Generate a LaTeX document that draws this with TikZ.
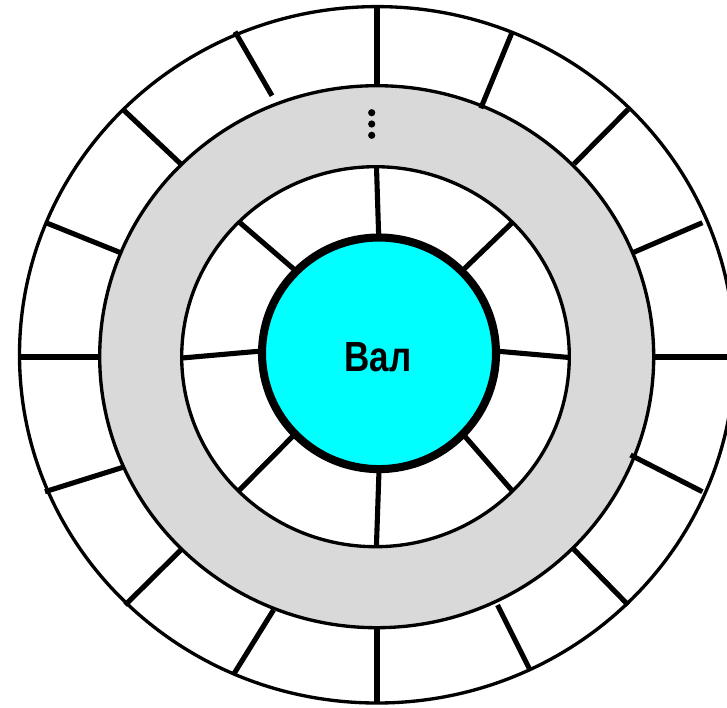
\documentclass[tikz,border=0pt]{standalone}
\usepackage{fontspec}
\setmainfont{Liberation Sans}
\definecolor{ringgray}{RGB}{217,217,217}
\definecolor{shaftcyan}{RGB}{0,255,255}
\begin{document}
\begin{tikzpicture}[x=0.02cm,y=-0.02cm,
  rim/.style={line width=1.9pt},
  ringedge/.style={line width=1.9pt},
  outerspoke/.style={line width=2.9pt},
  innerspoke/.style={line width=2.9pt},
  shaftline/.style={line width=4.6pt},
  dot/.style={fill=black}]
\useasboundingbox (0,0) rectangle (727,707);
\clip (0,0) rectangle (727,707);
\fill[white] (0,0) rectangle (727,707);
% outer circle
\draw[rim,fill=white] (377,354.8) ellipse [x radius=357.5, y radius=348.2];
% grey ring
\fill[ringgray,even odd rule] (376.7,356.7) ellipse [x radius=277, y radius=271]
   (375.5,356.7) ellipse [x radius=193.8, y radius=190];
\draw[ringedge] (376.7,356.7) ellipse [x radius=277, y radius=271];
\draw[ringedge,fill=white] (375.5,356.7) ellipse [x radius=193.8, y radius=190];
% outer spokes
\draw[outerspoke] (377,7) -- (377,86);
\draw[outerspoke] (235,31.7) -- (272,95.7);
\draw[outerspoke] (122.9,109.3) -- (180.8,164);
\draw[outerspoke] (45,222.3) -- (122,253.3);
\draw[outerspoke] (20,357) -- (100,357);
\draw[outerspoke] (45,491.7) -- (122.9,467.3);
\draw[outerspoke] (125.2,605) -- (180.8,550);
\draw[outerspoke] (233.2,675) -- (273.5,610);
\draw[outerspoke] (377,628) -- (377,703);
\draw[outerspoke] (530,670) -- (497.5,605);
\draw[outerspoke] (628.2,605) -- (573.5,549);
\draw[outerspoke] (702.4,491.7) -- (630.5,455);
\draw[outerspoke] (654,357) -- (727,357);
\draw[outerspoke] (631.4,253.3) -- (702.4,222.7);
\draw[outerspoke] (574,164) -- (628.2,109.3);
\draw[outerspoke] (480.8,108.3) -- (512.3,31.7);
% inner spokes
\draw[innerspoke] (376.5,167) -- (378.8,240);
\draw[innerspoke] (238.8,221.7) -- (296,271);
\draw[innerspoke] (182,358) -- (265,350.7);
\draw[innerspoke] (238.8,490.7) -- (296,433);
\draw[innerspoke] (376.4,546.7) -- (379.2,465);
\draw[innerspoke] (513,491.7) -- (462,433);
\draw[innerspoke] (569.3,357.5) -- (492,350.7);
\draw[innerspoke] (513.2,221.7) -- (462,271);
% shaft
\draw[shaftline,fill=shaftcyan] (379,353.3) ellipse [x radius=117, y radius=115.8];
\node[anchor=base,inner sep=0pt,font=\fontsize{24pt}{28pt}\selectfont\bfseries] (val) at (378,371) {\scalebox{0.83}[1]{Вал}};
% ellipsis dots
\fill[dot] (371.7,112.7) circle [radius=3.6];
\fill[dot] (371.7,124) circle [radius=3.6];
\fill[dot] (371.7,135.3) circle [radius=3.6];
\end{tikzpicture}
\end{document}
